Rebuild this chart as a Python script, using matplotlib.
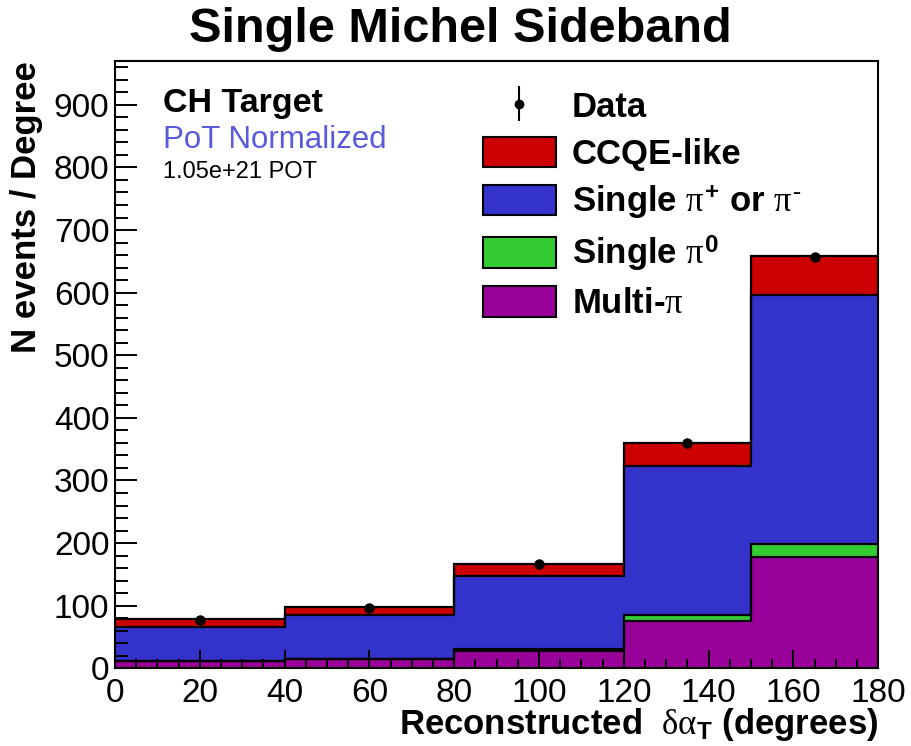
import numpy as np
import matplotlib
matplotlib.use("Agg")
import matplotlib.pyplot as plt
from matplotlib.ticker import MultipleLocator
from matplotlib.patches import Patch

plt.rcParams['font.family'] = ['Liberation Sans', 'DejaVu Sans']
plt.rcParams['mathtext.fontset'] = 'custom'
plt.rcParams['mathtext.rm'] = 'Liberation Serif'
plt.rcParams['mathtext.it'] = 'Liberation Serif'
plt.rcParams['mathtext.bf'] = 'Liberation Sans:bold'

# ---- data ----
bin_edges = [0, 40, 80, 120, 150, 180]
multi_pi = [11.6, 14.8, 27.6, 76.0, 177.1]
single_pi0 = [0.5, 0.8, 3.7, 9.5, 21.2]
single_pic = [54.3, 69.0, 116.5, 237.8, 398.5]
ccqe_like = [12.3, 12.7, 18.6, 37.3, 62.2]
data_vals = [76.6, 96.7, 166.4, 360.0, 656.8]
data_errs = [1.4, 1.6, 2.0, 3.5, 4.7]

labels = ["Multi-$\\pi$", "Single $\\pi^{\\mathbf{0}}$",
          "Single $\\pi^{\\mathbf{+}}$ or $\\pi^{\\text{-}}$", "CCQE-like"]
colors = ["#990099", "#33cc33", "#3333cc", "#cc0000"]

edges = np.array(bin_edges, dtype=float)
centers = 0.5 * (edges[:-1] + edges[1:])
layers = [np.array(multi_pi), np.array(single_pi0), np.array(single_pic), np.array(ccqe_like)]
cum = np.cumsum(layers, axis=0)

fig = plt.figure(figsize=(9.11, 7.46), dpi=100)
ax = fig.add_axes([115/911, 1 - 668.3/746, (878.3 - 115)/911, (668.3 - 61)/746])

# fills from top down
for i in range(len(layers) - 1, -1, -1):
    ax.stairs(cum[i], edges, fill=True, color=colors[i], lw=0, zorder=1 + (3 - i) * 0.1)
for i in range(len(layers)):
    ax.stairs(cum[i], edges, fill=False, baseline=None, color='black', lw=1.6, zorder=3)

ax.errorbar(centers, data_vals, yerr=data_errs, fmt='o', color='black',
            markersize=6.5, elinewidth=1.5, capsize=0, zorder=5)

ax.set_xlim(0, 180)
ax.set_ylim(0, 970)
ax.xaxis.set_major_locator(MultipleLocator(20))
ax.xaxis.set_minor_locator(MultipleLocator(5))
ax.yaxis.set_major_locator(MultipleLocator(100))
ax.yaxis.set_minor_locator(MultipleLocator(20))
ax.tick_params(axis='both', which='both', direction='in', top=False, right=False,
               width=1.4, labelsize=24)
ax.tick_params(axis='y', which='major', length=16, pad=4)
ax.tick_params(axis='y', which='minor', length=9)
ax.tick_params(axis='x', which='major', length=13, pad=7)
ax.tick_params(axis='x', which='minor', length=6.5)
for s in ax.spines.values():
    s.set_linewidth(1.5)

ax.set_xlabel("Reconstructed  $\\delta\\alpha_{\\mathbf{T}}$ (degrees)", fontsize=25,
              fontweight='bold', ha='right', x=1.0, labelpad=-2)
ax.set_ylabel("N events / Degree", fontsize=25, fontweight='bold', ha='right', y=1.0,
              labelpad=8)

fig.text(0.505, 1 - 30/746, "Single Michel Sideband", fontsize=35, fontweight='bold',
         ha='center', va='center')

fig.text(163/911, 1 - 112/746, "CH Target", fontsize=24.5, fontweight='bold', ha='left', va='baseline')
fig.text(163/911, 1 - 148/746, "PoT Normalized", fontsize=22.5, color='#5a5add', ha='left', va='baseline')
fig.text(163/911, 1 - 178/746, "1.05e+21 POT", fontsize=17, ha='left', va='baseline')

data_handle = ax.errorbar([], [], yerr=[], fmt='o', color='black', markersize=6, elinewidth=1.5)
legend_handles = [data_handle]
legend_labels = ["Data"]
for i in range(len(layers) - 1, -1, -1):
    legend_handles.append(Patch(facecolor=colors[i], edgecolor='black', linewidth=1.5))
    legend_labels.append(labels[i])

leg = fig.legend(legend_handles, legend_labels, loc='upper left',
                 bbox_to_anchor=(483/911, 1 - 90/746), frameon=False,
                 prop={'weight': 'bold', 'size': 25}, handlelength=2.1, handleheight=0.98,
                 handletextpad=0.45, labelspacing=0.36, borderpad=0, borderaxespad=0)

fig.savefig("out.png", dpi=100)
